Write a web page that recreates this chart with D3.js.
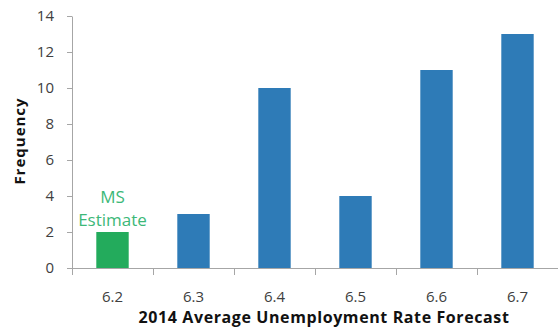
<!DOCTYPE html>
<html>
<head>
<meta charset="utf-8">
<script src="https://cdn.jsdelivr.net/npm/d3@7"></script>
<style>
  html, body { margin: 0; padding: 0; background: #fff; }
  svg { display: block; }
  text { font-family: "Open Sans", "Noto Sans", sans-serif; }
</style>
</head>
<body>
<svg id="chart" width="558" height="331"></svg>
<script>
// Forecast buckets and how many forecasters picked each one
const categories = ["6.2", "6.3", "6.4", "6.5", "6.6", "6.7"];
const frequencies = [2, 3, 10, 4, 11, 13];
const highlighted = ["6.2"];          // bucket holding the MS estimate
const yTicks = [0, 2, 4, 6, 8, 10, 12, 14];
const annotationLines = ["MS", "Estimate"];

const svg = d3.select("#chart");
const margin = { top: 16, right: 0, bottom: 63, left: 72 };
const width = 558 - margin.left - margin.right;
const height = 331 - margin.top - margin.bottom;

const axisColor = "#a6a6a6";
const labelColor = "#404040";
const blue = "#2e7bb7";
const green = "#23ab5c";

const x = d3.scaleBand()
  .domain(categories)
  .range([0, width])
  .paddingInner(0.6)
  .paddingOuter(0.3);

const y = d3.scaleLinear()
  .domain([0, 14])
  .range([height, 0]);

const g = svg.append("g").attr("transform", `translate(${margin.left},${margin.top})`);

// bars
g.selectAll("rect.bar")
  .data(categories.map((c, i) => ({ c, v: frequencies[i] })))
  .join("rect")
  .attr("class", "bar")
  .attr("x", d => x(d.c))
  .attr("y", d => y(d.v))
  .attr("width", x.bandwidth())
  .attr("height", d => y(0) - y(d.v))
  .attr("fill", d => highlighted.includes(d.c) ? green : blue);

// y axis
const yAxis = g.append("g")
  .call(d3.axisLeft(y).tickValues(yTicks).tickSize(5).tickPadding(13).tickSizeOuter(0));
yAxis.select(".domain").attr("stroke", axisColor);
yAxis.selectAll(".tick line").attr("stroke", axisColor);
yAxis.selectAll(".tick text")
  .attr("fill", labelColor)
  .style("font-size", "15px");

// x axis: ticks sit on the band boundaries, labels at band centres
const step = x.step();
const start = x(categories[0]) - x.paddingOuter() * step;
const boundaries = d3.range(categories.length + 1).map(i => start + i * step);
const xg = g.append("g").attr("transform", `translate(0,${height})`);
xg.append("line")
  .attr("x1", 0).attr("x2", width)
  .attr("y1", 0.5).attr("y2", 0.5)
  .attr("stroke", axisColor);
xg.selectAll("line.tick")
  .data(boundaries)
  .join("line")
  .attr("class", "tick")
  .attr("x1", d => Math.round(d) + 0.5).attr("x2", d => Math.round(d) + 0.5)
  .attr("y1", 0).attr("y2", 7)
  .attr("stroke", axisColor);
xg.selectAll("text.cat")
  .data(categories)
  .join("text")
  .attr("class", "cat")
  .attr("x", d => x(d) + x.bandwidth() / 2)
  .attr("y", 34)
  .attr("text-anchor", "middle")
  .attr("fill", labelColor)
  .style("font-size", "15px")
  .text(d => d);

// axis titles
svg.append("text")
  .attr("x", 324)
  .attr("y", 323)
  .attr("text-anchor", "middle")
  .attr("fill", "#111")
  .style("font-size", "16px")
  .style("font-weight", "bold")
  .style("letter-spacing", "0.6px")
  .text("2014 Average Unemployment Rate Forecast");

svg.append("text")
  .attr("transform", "translate(25,141) rotate(-90)")
  .attr("text-anchor", "middle")
  .attr("fill", "#111")
  .style("font-size", "15px")
  .style("font-weight", "bold")
  .style("letter-spacing", "1px")
  .text("Frequency");

// annotation above the highlighted bar
const hc = highlighted[0];
const hv = frequencies[categories.indexOf(hc)];
const ann = g.append("text")
  .attr("text-anchor", "middle")
  .attr("fill", "#3cb878")
  .style("font-size", "17px");
ann.selectAll("tspan")
  .data(annotationLines)
  .join("tspan")
  .attr("x", x(hc) + x.bandwidth() / 2)
  .attr("y", (d, i) => y(hv) - 6 - (annotationLines.length - 1 - i) * 23)
  .text(d => d);
</script>
</body>
</html>
